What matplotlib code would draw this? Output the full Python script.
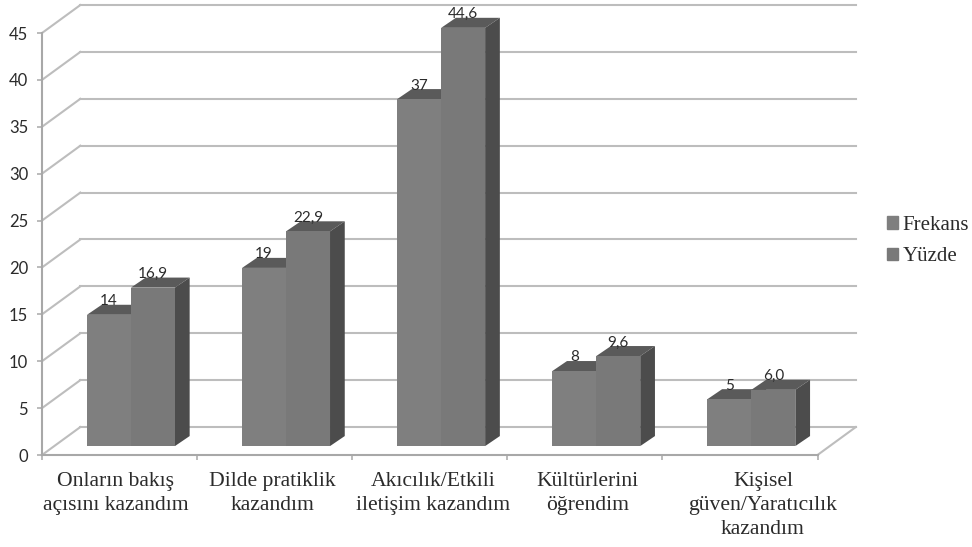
import matplotlib
matplotlib.use("Agg")
import matplotlib.pyplot as plt
import matplotlib.patches as mpatches

# categories and series
CATEGORIES = ["Onların bakış\naçısını kazandım", "Dilde pratiklik\nkazandım",
              "Akıcılık/Etkili\niletişim kazandım", "Kültürlerini\nöğrendim",
              "Kişisel\ngüven/Yaratıcılık\nkazandım"]
FREKANS = [14, 19, 37, 8, 5]
YUZDE = [16.9, 22.9, 44.6, 9.6, 6.0]
Y_TICKS = [0, 5, 10, 15, 20, 25, 30, 35, 40, 45]

# colours
FRONT_A = "#7f7f7f"
FRONT_B = "#797979"
TOP_COLOR = "#5a5a5a"
SIDE_COLOR = "#4c4c4c"
GRID_COLOR = "#bdbdbd"
AXIS_COLOR = "#a8a8a8"
TEXT_COLOR = "#2b2b2b"

# 3d look: wall depth, bar depth, floor gap (x in category slots, y in axis units)
WALL_DX, WALL_DY = 0.247, 2.98
BAR_DX, BAR_DY = 0.095, 1.07
BASE = 0.95
BAR_W = 0.2835
GROUP_START = 0.29
# name labels do not sit exactly on the slot centres
LABEL_SHIFT = [-0.023, -0.013, 0.02, 0.016, 0.148]


def draw_bar(ax, x, value, color):
    top = BASE + value
    ax.bar(x, value, BAR_W, bottom=BASE, align="edge", color=color, zorder=3, clip_on=False)
    # top face
    ax.fill([x, x + BAR_W, x + BAR_W + BAR_DX, x + BAR_DX],
            [top, top, top + BAR_DY, top + BAR_DY], color=TOP_COLOR, lw=0, zorder=2.5, clip_on=False)
    # side face
    ax.fill([x + BAR_W, x + BAR_W + BAR_DX, x + BAR_W + BAR_DX, x + BAR_W],
            [BASE, BASE + BAR_DY, top + BAR_DY, top], color=SIDE_COLOR, lw=0, zorder=2.5, clip_on=False)


def put_label(ax, x, value):
    text = str(value).replace(".", ",")
    ax.text(x + BAR_W / 2, BASE + value + 1.45, text, ha="center", va="center",
            fontsize=11, family="Lato", color=TEXT_COLOR, zorder=5, clip_on=False)


def main():
    fig = plt.figure(figsize=(9.72, 5.47), dpi=100)
    ax = fig.add_axes([42 / 972, 1 - 455 / 547, 775.5 / 972, 422 / 547])
    ax.set_xlim(0, 5)
    ax.set_ylim(0, 45)

    # back wall lines and left wall slants
    for t in Y_TICKS:
        ax.plot([0, WALL_DX], [t, t + WALL_DY], color=GRID_COLOR, lw=1.5, clip_on=False, zorder=1)
        ax.plot([WALL_DX, 5 + WALL_DX], [t + WALL_DY, t + WALL_DY], color=GRID_COLOR, lw=1.5,
                clip_on=False, zorder=1)
    # right edge of the floor
    ax.plot([5, 5 + WALL_DX], [0, WALL_DY], color=GRID_COLOR, lw=1.5, clip_on=False, zorder=1)

    for i in range(len(CATEGORIES)):
        x = i + GROUP_START
        draw_bar(ax, x + BAR_W, YUZDE[i], FRONT_B)
        draw_bar(ax, x, FREKANS[i], FRONT_A)
        put_label(ax, x, FREKANS[i])
        put_label(ax, x + BAR_W, YUZDE[i])

    for side in ["top", "right"]:
        ax.spines[side].set_visible(False)
    for side in ["left", "bottom"]:
        ax.spines[side].set_color(AXIS_COLOR)
        ax.spines[side].set_linewidth(1.5)

    ax.set_yticks(Y_TICKS)
    ax.set_xticks(range(6))
    ax.set_xticklabels([])
    ax.tick_params(axis="both", color=AXIS_COLOR, length=3.5, width=1.1)
    ax.tick_params(axis="y", labelsize=12, labelcolor=TEXT_COLOR, pad=6.5)
    for lab in ax.get_yticklabels():
        lab.set_family("Lato")

    # category names sit under each slot
    for i, name in enumerate(CATEGORIES):
        ax.annotate(name, (i + 0.5 + LABEL_SHIFT[i], 0), xytext=(0, -12.5), textcoords="offset points",
                    ha="center", va="top", fontsize=15.6, family="Liberation Serif",
                    color=TEXT_COLOR, linespacing=1.34, annotation_clip=False)

    handles = [mpatches.Patch(color=FRONT_A, label="Frekans"),
               mpatches.Patch(color=FRONT_B, label="Yüzde")]
    leg = ax.legend(handles=handles, loc="center left", bbox_to_anchor=(1.09, 0.507), frameon=False,
                    prop={"family": "Liberation Serif", "size": 15}, handlelength=0.53, handleheight=0.53,
                    handletextpad=0.2, labelspacing=0.6, borderpad=0, borderaxespad=0)
    for t in leg.get_texts():
        t.set_color(TEXT_COLOR)

    fig.savefig("out.png", dpi=100)


if __name__ == "__main__":
    main()
